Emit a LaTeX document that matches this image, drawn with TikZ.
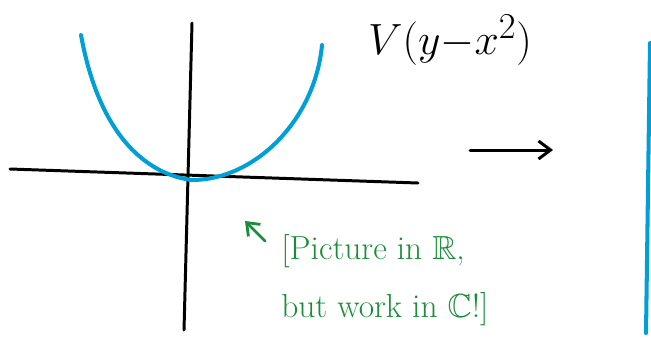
\documentclass[tikz,border=0pt]{standalone}
\usepackage{amsmath}
\usepackage{amssymb}
\usepackage{tikz}
\usepackage{xcolor}
\usetikzlibrary{arrows.meta, positioning, calc}
\definecolor{cCurve}{RGB}{0,160,215}
\definecolor{cNote}{RGB}{28,140,58}
\tikzset{
	axis/.style     ={line width=1.7pt, black, line cap=round},
	curve/.style    ={line width=2.3pt, cCurve, line cap=round, line join=round},
	maparrow/.style ={-{Straight Barb[length=2.4mm, width=3.6mm]}, line width=1.7pt, line cap=round},
	notearrow/.style={-{Straight Barb[length=2.2mm, width=3.4mm]}, line width=1.6pt, cNote, line cap=round},
	notetext/.style ={text=cNote, align=left, inner sep=0pt, font=\fontsize{19}{33}\selectfont},
	formula/.style  ={inner sep=0pt, font=\fontsize{28}{30}\selectfont},
}
\begin{document}
\begin{tikzpicture}[x=0.02cm, y=-0.02cm]
	\useasboundingbox (0,0) rectangle (651,339);
	% axes
	\coordinate (xL) at (10,169);
	\coordinate (xR) at (418,183);
	\coordinate (yT) at (192,23);
	\coordinate (yB) at (184,330);
	\draw[axis] (xL) -- (xR);
	\draw[axis] (yT) -- (yB);
	% the real picture of the curve
	\coordinate (vertex) at (192,180);
	\draw[curve] (81,35) .. controls (100,140) and (150,175) .. (vertex)
		.. controls (255,180) and (315,120) .. (322,45);
	\node[formula] (eqn) at (450,40) {$V(y{-}x^2)$};
	% map to the line
	\coordinate (mapFrom) at (470,150);
	\coordinate (mapTo) at (553,150);
	\draw[maparrow] (mapFrom) -- (mapTo);
	\coordinate (lineT) at (650,43);
	\coordinate (lineB) at (646,333);
	\draw[curve] (lineT) -- (lineB);
	% remark
	\node[notetext, anchor=north west] (note) at (281,234) {[Picture in $\mathbb{R}$,\\ but work in $\mathbb{C}$!]};
	\coordinate (noteTail) at (265,241);
	\coordinate (noteTip) at (245,221);
	\draw[notearrow] (noteTail) -- (noteTip);
\end{tikzpicture}
\end{document}
